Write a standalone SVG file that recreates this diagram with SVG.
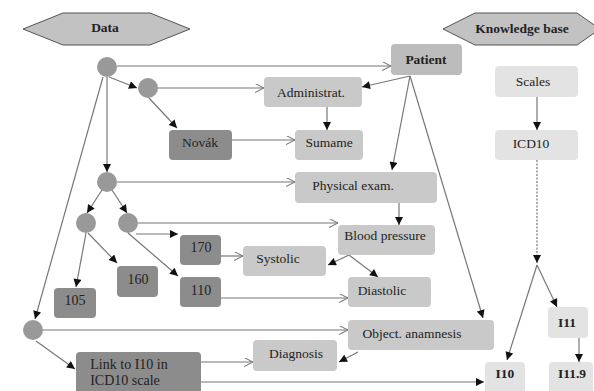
<svg xmlns="http://www.w3.org/2000/svg" width="594" height="391" viewBox="0 0 594 391">
<style>
text{font-family:'Liberation Serif','DejaVu Serif',serif;font-size:13.5px;fill:#222;text-anchor:middle;dominant-baseline:central}
.b{font-weight:bold}
.num{font-size:14px}
.hex{fill:#c2c2c2;stroke:#555;stroke-width:1}
.c{fill:#999}
.n1{fill:#bcbcbc}
.n2{fill:#c9c9c9}
.d{fill:#8c8c8c}
.l{fill:#e3e3e3}
.e{fill:none;stroke:#777;stroke-width:1.2}
.f{marker-end:url(#af)}
.o{marker-end:url(#ao)}
</style>
<defs>
<marker id="af" viewBox="0 0 10 10" refX="10" refY="5" markerWidth="9" markerHeight="8" markerUnits="userSpaceOnUse" orient="auto"><path d="M0,0L10,5L0,10z" fill="#111"/></marker>
<marker id="ao" viewBox="0 0 10 10" refX="10" refY="5" markerWidth="9" markerHeight="9" markerUnits="userSpaceOnUse" orient="auto"><path d="M0,0L10,5L0,10" fill="none" stroke="#777" stroke-width="1.2"/></marker>
</defs>

<g id="connectors">
<path class="e o" d="M117,66H391"/>
<path class="e f" d="M109,77L137,88"/>
<path class="e o" d="M158,88H264"/>
<path class="e f" d="M149,98L177,128"/>
<path class="e o" d="M232,140H295"/>
<path class="e f" d="M327,107V130"/>
<path class="e f" d="M410,76L362,87"/>
<path class="e f" d="M410,76L392,170"/>
<path class="e f" d="M410,76L483,318"/>
<path class="e f" d="M107,77V172"/>
<path class="e f" d="M103,77L35,319"/>
<path class="e o" d="M117,182H295"/>
<path class="e f" d="M102,190L87,213"/>
<path class="e f" d="M112,190L127,213"/>
<path class="e o" d="M138,223H338"/>
<path class="e f" d="M136,234H178"/>
<path class="e f" d="M128,233L178,276"/>
<path class="e f" d="M86,233L76,287"/>
<path class="e f" d="M88,233L117,263"/>
<path class="e o" d="M221,256H243"/>
<path class="e f" d="M349,255L328,265"/>
<path class="e f" d="M349,255L378,277"/>
<path class="e f" d="M399,203V225"/>
<path class="e o" d="M221,298H348"/>
<path class="e o" d="M43,330H348"/>
<path class="e f" d="M36,341L75,369"/>
<path class="e o" d="M201,362H253"/>
<path class="e f" d="M358,352L339,362"/>
<path class="e f" d="M190,382H484" stroke-width="2"/>
<circle cx="190" cy="382" r="3.5" fill="#111"/>
<path class="e f" d="M537,97V130"/>
<path class="e f" d="M537,160V263" stroke-dasharray="2,1.5"/>
<path class="e f" d="M537,265L507,360"/>
<path class="e f" d="M537,265L557,307"/>
<path class="e f" d="M579,338V362"/>
</g>

<g id="data"><polygon class="hex" points="23,29 63,13 150,13 190,29 150,45 63,45"/><text class="b" x="105" y="27">Data</text></g>
<g id="kb"><polygon class="hex" points="443,29 475,13 577,13 600,29 577,45 475,45"/><text class="b" x="522" y="28">Knowledge base</text></g>

<g id="c1"><circle class="c" cx="107" cy="67" r="10"/></g>
<g id="c2"><circle class="c" cx="148" cy="88" r="10"/></g>
<g id="c3"><circle class="c" cx="107" cy="182" r="10"/></g>
<g id="c4"><circle class="c" cx="86" cy="223" r="10"/></g>
<g id="c5"><circle class="c" cx="128" cy="223" r="10"/></g>
<g id="c6"><circle class="c" cx="33" cy="330" r="10"/></g>

<g id="patient"><rect class="n1" x="391" y="44" width="71" height="31" rx="4"/><text class="b" x="426" y="59">Patient</text></g>
<g id="administrat"><rect class="n2" x="264" y="77" width="98" height="30" rx="4"/><text x="311" y="92">Administrat.</text></g>
<g id="novak"><rect class="d" x="169" y="130" width="63" height="30" rx="4"/><text x="200" y="142">Novák</text></g>
<g id="sumame"><rect class="n2" x="295" y="130" width="68" height="30" rx="4"/><text x="329" y="142">Sumame</text></g>
<g id="physical"><rect class="n2" x="295" y="172" width="142" height="31" rx="4"/><text x="353" y="185">Physical exam.</text></g>
<g id="bp"><rect class="n2" x="338" y="225" width="97" height="30" rx="4"/><text x="385" y="235">Blood pressure</text></g>
<g id="n170"><rect class="d" x="180" y="235" width="41" height="30" rx="4"/><text class="num" x="201" y="247">170</text></g>
<g id="systolic"><rect class="n2" x="243" y="246" width="83" height="30" rx="4"/><text x="278" y="258">Systolic</text></g>
<g id="n110"><rect class="d" x="180" y="277" width="41" height="30" rx="4"/><text class="num" x="201" y="290">110</text></g>
<g id="diastolic"><rect class="n2" x="348" y="277" width="83" height="30" rx="4"/><text x="382" y="290">Diastolic</text></g>
<g id="n160"><rect class="d" x="117" y="266" width="41" height="31" rx="4"/><text class="num" x="138" y="279">160</text></g>
<g id="n105"><rect class="d" x="54" y="288" width="42" height="30" rx="4"/><text class="num" x="75" y="300">105</text></g>
<g id="anamnesis"><rect class="n2" x="348" y="320" width="146" height="30" rx="4"/><text x="412" y="333">Object. anamnesis</text></g>
<g id="diagnosis"><rect class="n2" x="253" y="340" width="84" height="31" rx="4"/><text x="296" y="353">Diagnosis</text></g>
<g id="link"><rect class="d" x="76" y="352" width="125" height="45" rx="4"/><text class="num" x="129" y="364">Link to I10 in</text><text class="num" x="125" y="380">ICD10 scale</text></g>
<g id="scales"><rect class="l" x="495" y="66" width="83" height="31" rx="4"/><text x="533" y="81" font-size="15.5">Scales</text></g>
<g id="icd10"><rect class="l" x="495" y="130" width="83" height="30" rx="4"/><text x="531" y="143" font-size="15">ICD10</text></g>
<g id="i11"><rect class="l" x="548" y="307" width="40" height="31" rx="4"/><text class="b" x="567" y="322">I11</text></g>
<g id="i10"><rect class="l" x="485" y="362" width="40" height="35" rx="4"/><text class="b" x="505" y="373">I10</text></g>
<g id="i119"><rect class="l" x="549" y="362" width="44" height="35" rx="4"/><text class="b" x="572" y="373">I11.9</text></g>
</svg>
